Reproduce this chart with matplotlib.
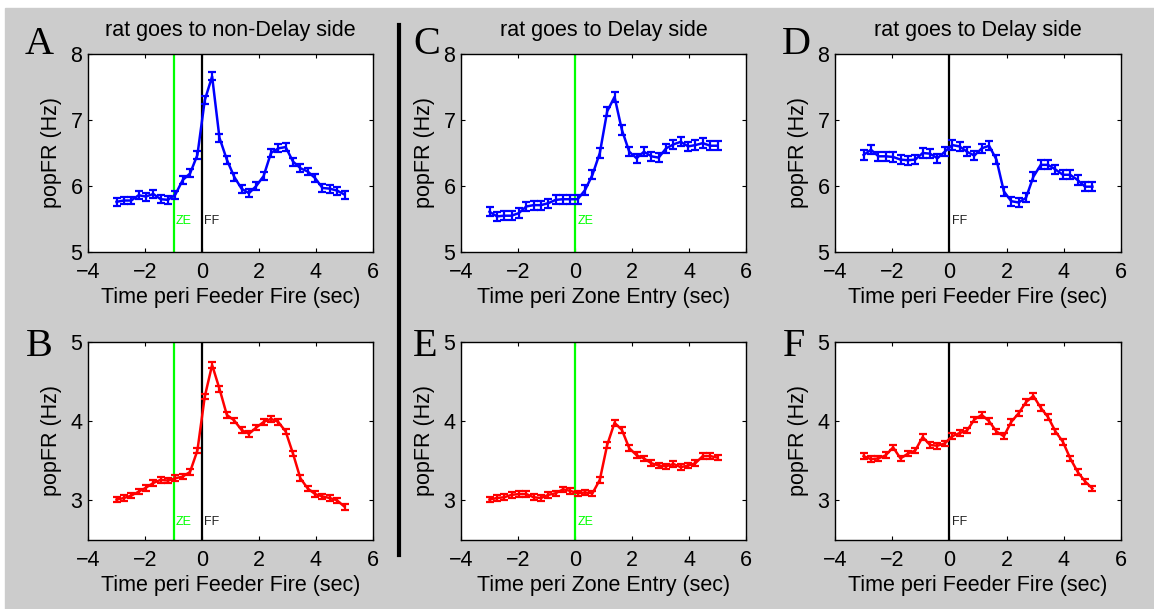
import numpy as np
import matplotlib
matplotlib.use("Agg")
import matplotlib.pyplot as plt
from matplotlib.patches import Rectangle
from matplotlib.lines import Line2D

plt.rcParams["font.family"] = ["Liberation Sans", "DejaVu Sans"]

# bin centres (sec) shared by every panel
t = np.linspace(-3, 5, 32)

# population firing rate per bin (Hz)
fr_A = [5.76, 5.78, 5.78, 5.86, 5.84, 5.88, 5.80, 5.79, 5.87, 6.09, 6.19, 6.47,
        7.30, 7.66, 6.73, 6.40, 6.14, 5.96, 5.89, 6.00, 6.15, 6.50, 6.57, 6.59,
        6.37, 6.27, 6.22, 6.12, 5.97, 5.96, 5.93, 5.87]
fr_B = [3.01, 3.03, 3.06, 3.11, 3.16, 3.22, 3.26, 3.25, 3.28, 3.30, 3.36, 3.63,
        4.31, 4.71, 4.41, 4.08, 4.01, 3.89, 3.84, 3.92, 3.99, 4.03, 3.99, 3.87,
        3.59, 3.28, 3.15, 3.08, 3.05, 3.03, 3.00, 2.92]
fr_C = [5.61, 5.54, 5.55, 5.55, 5.59, 5.69, 5.71, 5.71, 5.74, 5.79, 5.80, 5.80,
        5.80, 5.94, 6.17, 6.50, 7.13, 7.35, 6.85, 6.52, 6.42, 6.52, 6.45, 6.43,
        6.57, 6.63, 6.67, 6.60, 6.62, 6.65, 6.61, 6.61]
fr_D = [6.47, 6.55, 6.45, 6.45, 6.44, 6.40, 6.39, 6.40, 6.50, 6.49, 6.42, 6.52,
        6.62, 6.60, 6.52, 6.46, 6.57, 6.61, 6.40, 5.92, 5.77, 5.75, 5.82, 6.14,
        6.32, 6.32, 6.25, 6.17, 6.17, 6.09, 5.99, 5.99]
fr_E = [3.01, 3.03, 3.04, 3.07, 3.08, 3.08, 3.04, 3.03, 3.07, 3.09, 3.14, 3.12,
        3.09, 3.10, 3.09, 3.26, 3.70, 3.98, 3.89, 3.66, 3.57, 3.53, 3.47, 3.44,
        3.43, 3.46, 3.42, 3.44, 3.47, 3.56, 3.56, 3.54]
fr_F = [3.56, 3.52, 3.53, 3.57, 3.67, 3.53, 3.59, 3.63, 3.80, 3.70, 3.69, 3.72,
        3.81, 3.85, 3.88, 4.02, 4.08, 4.00, 3.87, 3.81, 3.99, 4.10, 4.24, 4.32,
        4.17, 4.05, 3.87, 3.74, 3.53, 3.36, 3.24, 3.15]

# standard error per panel (Hz)
sem_A, sem_B, sem_C, sem_D, sem_E, sem_F = 0.06, 0.035, 0.07, 0.07, 0.035, 0.035

titles = ["rat goes to non-Delay side", "rat goes to Delay side", "rat goes to Delay side"]
xlabels = ["Time peri Feeder Fire (sec)", "Time peri Zone Entry (sec)", "Time peri Feeder Fire (sec)"]

W, H = 1154, 609


def px_axes(left, top, right, bottom):
    # pixel box -> figure fraction rect
    return [left / W, 1 - bottom / H, (right - left) / W, (bottom - top) / H]


def draw_panel(ax, y, err, color, ylim, yticks, events, label_y, xlabel, title=None):
    ax.errorbar(t, y, yerr=err, color=color, lw=1.8, elinewidth=1.6,
                capsize=3, capthick=1.6, zorder=3)
    for xe, name, c in events:
        ax.axvline(xe, color=c, lw=1.6, zorder=2)
        ax.text(xe + 0.08, label_y, name, color=c if c != "k" else "#222222",
                fontsize=9, ha="left", va="center")
    ax.set_xlim(-4, 6)
    ax.set_ylim(*ylim)
    ax.set_xticks([-4, -2, 0, 2, 4, 6])
    ax.set_yticks(yticks)
    ax.tick_params(direction="in", top=True, right=True, length=3,
                   labelsize=15.5)
    ax.tick_params(axis="x", pad=7)
    ax.tick_params(axis="y", pad=4)
    for s in ax.spines.values():
        s.set_linewidth(1.0)
    ax.set_xlabel(xlabel, fontsize=15.5, labelpad=3)
    ax.set_ylabel("popFR (Hz)", fontsize=15.5, labelpad=6)
    if title:
        ax.set_title(title, fontsize=15.5, pad=13)


fig = plt.figure(figsize=(W / 100, H / 100), dpi=100)
fig.patch.set_facecolor("white")
fig.add_artist(Rectangle((5 / W, 0), 1, (H - 8) / H, transform=fig.transFigure,
                         color="#cccccc", zorder=-5))

lefts = [(88, 373), (461, 746), (835, 1121)]
ze, ff = ("ZE", "#00ff00"), ("FF", "k")
top_events = [[(-1, *ze), (0, *ff)], [(0, *ze)], [(0, *ff)]]
top_data = [(fr_A, sem_A), (fr_C, sem_C), (fr_D, sem_D)]
bot_data = [(fr_B, sem_B), (fr_E, sem_E), (fr_F, sem_F)]

for i, (l, r) in enumerate(lefts):
    ax_top = fig.add_axes(px_axes(l, 54, r, 252))
    draw_panel(ax_top, top_data[i][0], top_data[i][1], "#0000ff", (5, 8), [5, 6, 7, 8],
               top_events[i], 5.47, xlabels[i], titles[i])
    ax_bot = fig.add_axes(px_axes(l, 342, r, 540))
    draw_panel(ax_bot, bot_data[i][0], bot_data[i][1], "#ff0000", (2.5, 5), [3, 4, 5],
               top_events[i], 2.73, xlabels[i])

# panel letters
letters = [("A", 39, 44), ("B", 39, 346), ("C", 427, 44),
           ("E", 425, 346), ("D", 796, 44), ("F", 794, 346)]
for ch, x, y in letters:
    fig.text(x / W, 1 - y / H, ch, fontsize=29, ha="center", va="center",
             family="Liberation Serif")

# separator between the non-Delay and Delay columns
fig.add_artist(Line2D([399 / W, 399 / W], [1 - 25 / H, 1 - 555 / H],
                      transform=fig.transFigure, color="k", lw=3))

fig.savefig("out.png", dpi=100)
